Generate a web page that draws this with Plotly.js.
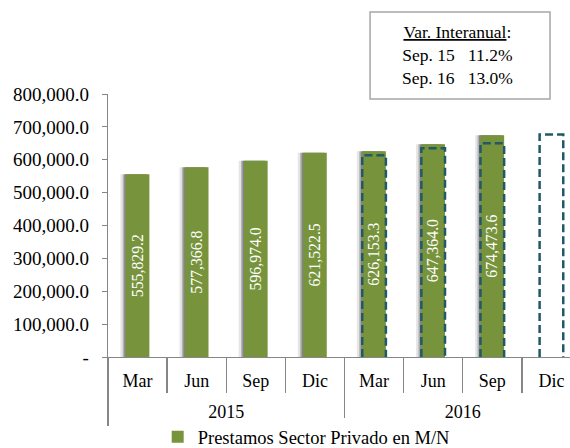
<!DOCTYPE html>
<html>
<head>
<meta charset="utf-8">
<script src="https://cdn.plot.ly/plotly-3.0.1.min.js"></script>
<style>
html,body{margin:0;padding:0;overflow:hidden;background:#fff;}
#chart{width:581px;height:448px;}
</style>
</head>
<body>
<div id="chart"></div>
<script>
// ---- data ----
const years = ["2015","2015","2015","2015","2016","2016","2016","2016"];
const months = ["Mar","Jun","Sep","Dic","Mar","Jun","Sep","Dic"];
const prestamos = [555829.2, 577366.8, 596974.0, 621522.5, 626153.3, 647364.0, 674473.6, null];
const programa = [null, null, null, null, 614000, 635000, 650000, 677000];
const yTicks = [0, 100000, 200000, 300000, 400000, 500000, 600000, 700000, 800000];
const seriesName = "Prestamos Sector Privado en M/N";
const boxTitle = "Var. Interanual";
const boxRows = [["Sep. 15", "11.2%"], ["Sep. 16", "13.0%"]];

const FONT = "Liberation Serif, Times New Roman, serif";
const GREEN = "#77933C";
const DASH = "#215967";
const AXC = "#868686";
const BW = 0.4;

const fmt = v => v === 0 ? "-" : v.toLocaleString("en-US", {minimumFractionDigits:1, maximumFractionDigits:1});
const idx = months.map((m, i) => i);
const monthBounds = months.map((m, i) => i - 0.5).concat([months.length - 0.5]);
const yearList = [...new Set(years)];
const yearCenters = yearList.map(y => {
  const ii = idx.filter(i => years[i] === y);
  return (ii[0] + ii[ii.length - 1]) / 2;
});
const yearBounds = yearList.map(y => idx.find(i => years[i] === y) - 0.5).concat([years.length - 0.5]);

// dashed outline paths built from the programa array
const dx = [], dy = [];
programa.forEach((v, i) => {
  if (v === null) return;
  dx.push(i - BW/2, i - BW/2, i + BW/2, i + BW/2, null);
  dy.push(0, v, v, 0, null);
});

const traces = [
  {type:"bar", x:idx, y:prestamos, width:BW, offset:-BW/2-0.09,
   marker:{color:"rgba(0,0,0,0.10)"}, showlegend:false, hoverinfo:"skip"},
  {type:"bar", x:idx, y:prestamos, width:BW, offset:-BW/2-0.05,
   marker:{color:"rgba(0,0,0,0.22)"}, showlegend:false, hoverinfo:"skip"},
  {type:"bar", x:idx, y:prestamos, width:BW, offset:-BW/2-0.025,
   marker:{color:"rgba(0,0,0,0.25)"}, showlegend:false, hoverinfo:"skip"},
  {type:"bar", name:seriesName, x:idx, y:prestamos, width:BW, offset:-BW/2,
   marker:{color:GREEN},
   texttemplate:"%{y:,.1f}", textposition:"inside", insidetextanchor:"middle", textangle:-90,
   textfont:{color:"#ffffff", size:17, family:FONT}},
  {type:"scatter", mode:"lines", x:dx, y:dy, xaxis:"x2", yaxis:"y",
   line:{color:DASH, width:2.5, dash:"8px,4px"}, showlegend:false, hoverinfo:"skip", connectgaps:false}
];

const boxText = "<u>" + boxTitle + "</u>:<br>" + boxRows.map(r => r[0] + "&nbsp;&nbsp;&nbsp;" + r[1]).join("<br>");

const layout = {
  width:581, height:448,
  margin:{l:108, r:0, t:94, b:91},
  paper_bgcolor:"#ffffff", plot_bgcolor:"#ffffff",
  barmode:"overlay",
  font:{family:FONT, color:"#000000", size:18},
  xaxis:{type:"linear", range:[-0.5, 7.5], showline:true, linecolor:AXC, linewidth:1.3,
    tickmode:"array", tickvals:idx, ticktext:months, ticks:"",
    minor:{tickmode:"array", tickvals:monthBounds, ticks:"outside", ticklen:35, tickcolor:AXC, tickwidth:1.3, showgrid:false},
    ticklabelstandoff:7, showgrid:false, zeroline:false,
    tickfont:{size:18, family:FONT, color:"#000"}},
  xaxis2:{overlaying:"x", anchor:"y", side:"bottom", range:[-0.5, 7.5], showline:false,
    tickmode:"array", tickvals:yearCenters, ticktext:yearList, ticks:"",
    minor:{tickmode:"array", tickvals:yearBounds, ticks:"outside", ticklen:68, tickcolor:AXC, tickwidth:1.3, showgrid:false},
    ticklabelstandoff:42, showgrid:false, zeroline:false,
    tickfont:{size:18, family:FONT, color:"#000"}},
  yaxis:{range:[0, 800000], tickvals:yTicks, ticktext:yTicks.map(fmt),
    showline:true, linecolor:AXC, linewidth:1.3, ticks:"outside", ticklen:5,
    tickcolor:AXC, showgrid:false, zeroline:false, ticklabelstandoff:9,
    tickfont:{size:19, family:FONT, color:"#000"}},
  showlegend:true,
  legend:{orientation:"h", xref:"container", yref:"container", x:0.527, xanchor:"center",
    y:0.024, yanchor:"middle", itemwidth:30, font:{size:18.5, family:FONT, color:"#000"}},
  shapes:[{type:"rect", xref:"paper", yref:"paper", x0:0.554, x1:0.9345, y0:0.981, y1:1.312,
    line:{color:"#a6a6a6", width:1.5}, fillcolor:"#ffffff"}],
  annotations:[{xref:"paper", yref:"paper", x:0.738, y:1.148, xanchor:"center", yanchor:"middle",
    text:boxText, showarrow:false, align:"center", font:{size:17.5, family:FONT, color:"#000"}}]
};

Plotly.newPlot("chart", traces, layout, {displayModeBar:false, staticPlot:true});
</script>
</body>
</html>
